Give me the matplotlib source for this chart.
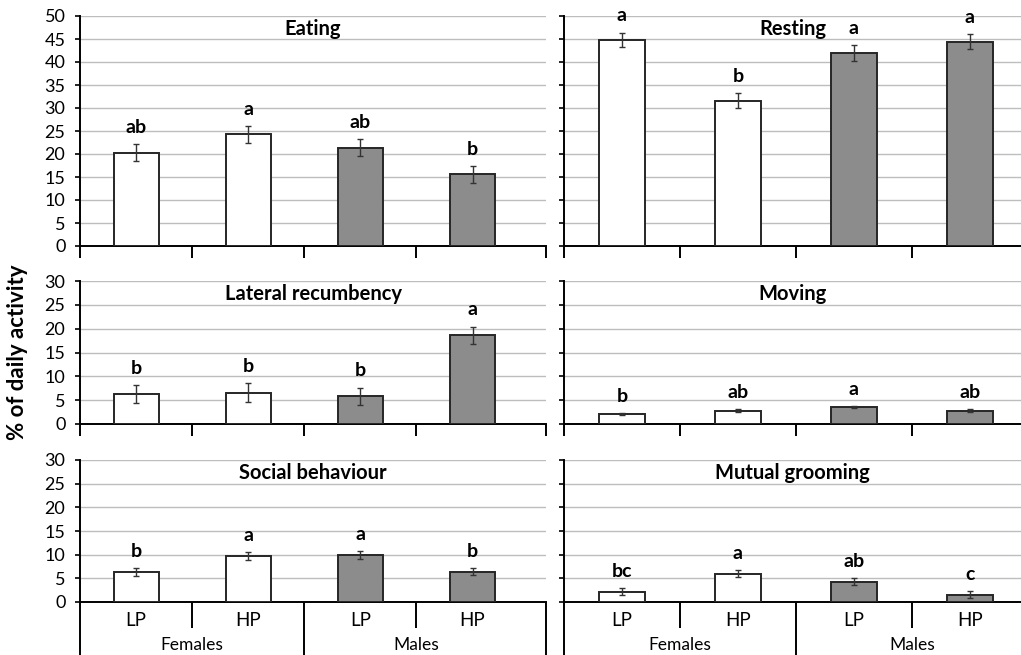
import matplotlib.pyplot as plt
import numpy as np

plt.rcParams['font.family'] = ['Lato', 'DejaVu Sans']

treatments = ['LP', 'HP', 'LP', 'HP']
sexes = ['Females', 'Males']
titles = ['Eating', 'Resting', 'Lateral recumbency', 'Moving',
          'Social behaviour', 'Mutual grooming']

# mean % of daily activity, SE and significance letters (F-LP, F-HP, M-LP, M-HP)
eating = [20.3, 24.3, 21.4, 15.6]
eating_se = [1.8, 1.8, 1.8, 1.8]
eating_sig = ['ab', 'a', 'ab', 'b']

resting = [44.8, 31.6, 42.0, 44.4]
resting_se = [1.6, 1.7, 1.7, 1.65]
resting_sig = ['a', 'b', 'a', 'a']

lateral = [6.3, 6.6, 5.8, 18.6]
lateral_se = [1.9, 1.9, 1.85, 1.85]
lateral_sig = ['b', 'b', 'b', 'a']

moving = [2.1, 2.8, 3.6, 2.8]
moving_se = [0.2, 0.3, 0.2, 0.25]
moving_sig = ['b', 'ab', 'a', 'ab']

social = [6.3, 9.7, 9.9, 6.4]
social_se = [0.8, 0.85, 0.85, 0.8]
social_sig = ['b', 'a', 'a', 'b']

grooming = [2.2, 6.0, 4.3, 1.5]
grooming_se = [0.75, 0.7, 0.75, 0.75]
grooming_sig = ['bc', 'a', 'ab', 'c']

panels = [
    (eating, eating_se, eating_sig),
    (resting, resting_se, resting_sig),
    (lateral, lateral_se, lateral_sig),
    (moving, moving_se, moving_sig),
    (social, social_se, social_sig),
    (grooming, grooming_se, grooming_sig),
]
ymaxes = [50, 50, 30, 30, 30, 30]

fills = ['white', 'white', '#8c8c8c', '#8c8c8c']
edge = '#262626'

W, H = 1021, 655
fig = plt.figure(figsize=(W / 100, H / 100), dpi=100)

# pixel boxes: (left, top, right, bottom)
cols = [(80, 546), (564, 1021)]
rows = [(16, 246), (281, 424), (460, 602)]
xmaxes = [3.655, 3.44]


def add_axes(col, row):
    l, r = cols[col]
    t, b = rows[row]
    return fig.add_axes([l / W, (H - b) / H, (r - l) / W, (b - t) / H])


for i, (vals, errs, sig) in enumerate(panels):
    row, col = divmod(i, 2)
    ax = add_axes(col, row)
    x = np.arange(len(vals))
    ax.bar(x, vals, width=0.4, color=fills, edgecolor=edge, linewidth=1.4, zorder=3)
    ax.errorbar(x, vals, yerr=errs, fmt='none', ecolor='#333333',
                elinewidth=1, capsize=2.5, capthick=1, zorder=4)
    for xi, v, e, s in zip(x, vals, errs, sig):
        ax.annotate(s, (xi, v + e), xytext=(0, 12), textcoords='offset points',
                    ha='center', va='center', fontsize=14, fontweight='bold')

    ymax = ymaxes[i]
    xmax = xmaxes[col]
    ax.set_ylim(0, ymax)
    ax.set_yticks(np.arange(0, ymax + 1, 5))
    ax.set_xlim(-0.5, xmax)
    ax.yaxis.grid(True, color='#bdbdbd', lw=1)
    ax.set_axisbelow(True)
    for s in ['top', 'right']:
        ax.spines[s].set_visible(False)
    for s in ['left', 'bottom']:
        ax.spines[s].set_linewidth(1.4)
        ax.spines[s].set_color('black')
    ax.tick_params(axis='y', direction='out', length=3.5, width=1.2,
                   labelsize=13, pad=7, labelleft=(col == 0))

    ax.annotate(titles[i], (0.5, 1), xycoords='axes fraction', xytext=(0, -9.5),
                textcoords='offset points', ha='center', va='center',
                fontsize=14.5, fontweight='bold')

    bounds = [-0.5, 0.5, 1.5, 2.5]
    if col == 0:
        bounds.append(xmax)
    if row < 2:
        ax.set_xticks(bounds)
        ax.set_xticklabels([])
        ax.tick_params(axis='x', direction='out', length=8.6, width=1.4)
    else:
        major = [b for b in bounds if b not in (0.5, 2.5)]
        ax.set_xticks(major)
        ax.set_xticklabels([])
        ax.set_xticks([0.5, 2.5], minor=True)
        ax.tick_params(axis='x', which='major', direction='out', length=39, width=1.4)
        ax.tick_params(axis='x', which='minor', direction='out', length=19, width=1.4)
        tr = ax.get_xaxis_transform()
        for xi, t in zip(x, treatments):
            ax.annotate(t, (xi, 0), xycoords=tr, xytext=(0, -13),
                        textcoords='offset points', ha='center', va='center',
                        fontsize=13.5)
        for k, s in enumerate(sexes):
            ax.annotate(s, (2 * k + 0.5, 0), xycoords=tr, xytext=(0, -31),
                        textcoords='offset points', ha='center', va='center',
                        fontsize=12.5)

fig.text(17 / W, (H - 352) / H, '% of daily activity', rotation=90,
         ha='center', va='center', fontsize=16, fontweight='bold')

plt.savefig('out.png', dpi=100)
